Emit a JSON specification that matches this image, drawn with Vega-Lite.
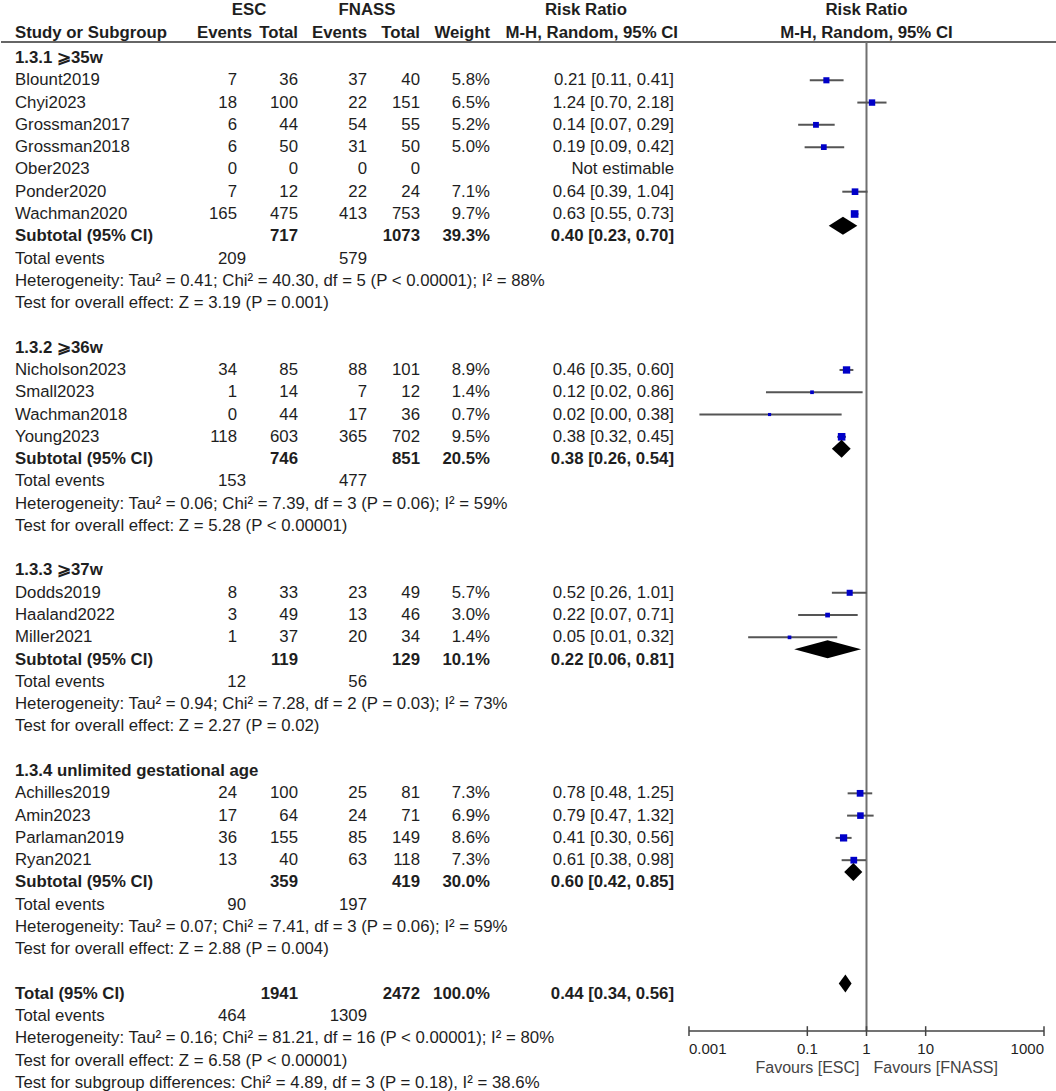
{
  "$schema": "https://vega.github.io/schema/vega-lite/v6.json",
  "background": "white",
  "padding": 0,
  "spacing": 0,
  "bounds": "flush",
  "config": {
    "view": {"stroke": null},
    "axis": {"disable": true},
    "text": {"font": "Liberation Sans", "fontSize": 16.8, "fill": "#1e1e1e", "baseline": "middle"}
  },
  "datasets": {
    "tbl": [
      {"row": -1, "kind": "head", "label": "Study or Subgroup", "ee": "Events", "et": "Total", "fe": "Events", "ft": "Total", "w": "Weight", "ci": "M-H, Random, 95% CI"},
      {"row": 0, "kind": "group", "label": "1.3.1 ⩾35w"},
      {"row": 1, "kind": "study", "label": "Blount2019", "ee": "7", "et": "36", "fe": "37", "ft": "40", "w": "5.8%", "ci": "0.21 [0.11, 0.41]"},
      {"row": 2, "kind": "study", "label": "Chyi2023", "ee": "18", "et": "100", "fe": "22", "ft": "151", "w": "6.5%", "ci": "1.24 [0.70, 2.18]"},
      {"row": 3, "kind": "study", "label": "Grossman2017", "ee": "6", "et": "44", "fe": "54", "ft": "55", "w": "5.2%", "ci": "0.14 [0.07, 0.29]"},
      {"row": 4, "kind": "study", "label": "Grossman2018", "ee": "6", "et": "50", "fe": "31", "ft": "50", "w": "5.0%", "ci": "0.19 [0.09, 0.42]"},
      {"row": 5, "kind": "study", "label": "Ober2023", "ee": "0", "et": "0", "fe": "0", "ft": "0", "w": "", "ci": "Not estimable"},
      {"row": 6, "kind": "study", "label": "Ponder2020", "ee": "7", "et": "12", "fe": "22", "ft": "24", "w": "7.1%", "ci": "0.64 [0.39, 1.04]"},
      {"row": 7, "kind": "study", "label": "Wachman2020", "ee": "165", "et": "475", "fe": "413", "ft": "753", "w": "9.7%", "ci": "0.63 [0.55, 0.73]"},
      {"row": 8, "kind": "sub", "label": "Subtotal (95% CI)", "ee": "", "et": "717", "fe": "", "ft": "1073", "w": "39.3%", "ci": "0.40 [0.23, 0.70]"},
      {"row": 9, "kind": "te", "label": "Total events", "ee": "209", "et": "", "fe": "579", "ft": "", "w": "", "ci": ""},
      {"row": 10, "kind": "note", "label": "Heterogeneity: Tau² = 0.41; Chi² = 40.30, df = 5 (P < 0.00001); I² = 88%"},
      {"row": 11, "kind": "note", "label": "Test for overall effect: Z = 3.19 (P = 0.001)"},
      {"row": 13, "kind": "group", "label": "1.3.2 ⩾36w"},
      {"row": 14, "kind": "study", "label": "Nicholson2023", "ee": "34", "et": "85", "fe": "88", "ft": "101", "w": "8.9%", "ci": "0.46 [0.35, 0.60]"},
      {"row": 15, "kind": "study", "label": "Small2023", "ee": "1", "et": "14", "fe": "7", "ft": "12", "w": "1.4%", "ci": "0.12 [0.02, 0.86]"},
      {"row": 16, "kind": "study", "label": "Wachman2018", "ee": "0", "et": "44", "fe": "17", "ft": "36", "w": "0.7%", "ci": "0.02 [0.00, 0.38]"},
      {"row": 17, "kind": "study", "label": "Young2023", "ee": "118", "et": "603", "fe": "365", "ft": "702", "w": "9.5%", "ci": "0.38 [0.32, 0.45]"},
      {"row": 18, "kind": "sub", "label": "Subtotal (95% CI)", "ee": "", "et": "746", "fe": "", "ft": "851", "w": "20.5%", "ci": "0.38 [0.26, 0.54]"},
      {"row": 19, "kind": "te", "label": "Total events", "ee": "153", "et": "", "fe": "477", "ft": "", "w": "", "ci": ""},
      {"row": 20, "kind": "note", "label": "Heterogeneity: Tau² = 0.06; Chi² = 7.39, df = 3 (P = 0.06); I² = 59%"},
      {"row": 21, "kind": "note", "label": "Test for overall effect: Z = 5.28 (P < 0.00001)"},
      {"row": 23, "kind": "group", "label": "1.3.3 ⩾37w"},
      {"row": 24, "kind": "study", "label": "Dodds2019", "ee": "8", "et": "33", "fe": "23", "ft": "49", "w": "5.7%", "ci": "0.52 [0.26, 1.01]"},
      {"row": 25, "kind": "study", "label": "Haaland2022", "ee": "3", "et": "49", "fe": "13", "ft": "46", "w": "3.0%", "ci": "0.22 [0.07, 0.71]"},
      {"row": 26, "kind": "study", "label": "Miller2021", "ee": "1", "et": "37", "fe": "20", "ft": "34", "w": "1.4%", "ci": "0.05 [0.01, 0.32]"},
      {"row": 27, "kind": "sub", "label": "Subtotal (95% CI)", "ee": "", "et": "119", "fe": "", "ft": "129", "w": "10.1%", "ci": "0.22 [0.06, 0.81]"},
      {"row": 28, "kind": "te", "label": "Total events", "ee": "12", "et": "", "fe": "56", "ft": "", "w": "", "ci": ""},
      {"row": 29, "kind": "note", "label": "Heterogeneity: Tau² = 0.94; Chi² = 7.28, df = 2 (P = 0.03); I² = 73%"},
      {"row": 30, "kind": "note", "label": "Test for overall effect: Z = 2.27 (P = 0.02)"},
      {"row": 32, "kind": "group", "label": "1.3.4 unlimited gestational age"},
      {"row": 33, "kind": "study", "label": "Achilles2019", "ee": "24", "et": "100", "fe": "25", "ft": "81", "w": "7.3%", "ci": "0.78 [0.48, 1.25]"},
      {"row": 34, "kind": "study", "label": "Amin2023", "ee": "17", "et": "64", "fe": "24", "ft": "71", "w": "6.9%", "ci": "0.79 [0.47, 1.32]"},
      {"row": 35, "kind": "study", "label": "Parlaman2019", "ee": "36", "et": "155", "fe": "85", "ft": "149", "w": "8.6%", "ci": "0.41 [0.30, 0.56]"},
      {"row": 36, "kind": "study", "label": "Ryan2021", "ee": "13", "et": "40", "fe": "63", "ft": "118", "w": "7.3%", "ci": "0.61 [0.38, 0.98]"},
      {"row": 37, "kind": "sub", "label": "Subtotal (95% CI)", "ee": "", "et": "359", "fe": "", "ft": "419", "w": "30.0%", "ci": "0.60 [0.42, 0.85]"},
      {"row": 38, "kind": "te", "label": "Total events", "ee": "90", "et": "", "fe": "197", "ft": "", "w": "", "ci": ""},
      {"row": 39, "kind": "note", "label": "Heterogeneity: Tau² = 0.07; Chi² = 7.41, df = 3 (P = 0.06); I² = 59%"},
      {"row": 40, "kind": "note", "label": "Test for overall effect: Z = 2.88 (P = 0.004)"},
      {"row": 42, "kind": "sub", "label": "Total (95% CI)", "ee": "", "et": "1941", "fe": "", "ft": "2472", "w": "100.0%", "ci": "0.44 [0.34, 0.56]"},
      {"row": 43, "kind": "te", "label": "Total events", "ee": "464", "et": "", "fe": "1309", "ft": "", "w": "", "ci": ""},
      {"row": 44, "kind": "note", "label": "Heterogeneity: Tau² = 0.16; Chi² = 81.21, df = 16 (P < 0.00001); I² = 80%"},
      {"row": 45, "kind": "note", "label": "Test for overall effect: Z = 6.58 (P < 0.00001)"},
      {"row": 46, "kind": "note", "label": "Test for subgroup differences: Chi² = 4.89, df = 3 (P = 0.18), I² = 38.6%"}
    ],
    "studies": [
      {"row": 1, "rr": 0.21, "lo": 0.11, "hi": 0.41, "w": 5.8},
      {"row": 2, "rr": 1.24, "lo": 0.70, "hi": 2.18, "w": 6.5},
      {"row": 3, "rr": 0.14, "lo": 0.07, "hi": 0.29, "w": 5.2},
      {"row": 4, "rr": 0.19, "lo": 0.09, "hi": 0.42, "w": 5.0},
      {"row": 6, "rr": 0.64, "lo": 0.39, "hi": 1.04, "w": 7.1},
      {"row": 7, "rr": 0.63, "lo": 0.55, "hi": 0.73, "w": 9.7},
      {"row": 14, "rr": 0.46, "lo": 0.35, "hi": 0.60, "w": 8.9},
      {"row": 15, "rr": 0.12, "lo": 0.02, "hi": 0.86, "w": 1.4},
      {"row": 16, "rr": 0.023, "lo": 0.0015, "hi": 0.38, "w": 0.7},
      {"row": 17, "rr": 0.38, "lo": 0.32, "hi": 0.45, "w": 9.5},
      {"row": 24, "rr": 0.52, "lo": 0.26, "hi": 1.01, "w": 5.7},
      {"row": 25, "rr": 0.22, "lo": 0.07, "hi": 0.71, "w": 3.0},
      {"row": 26, "rr": 0.05, "lo": 0.01, "hi": 0.32, "w": 1.4},
      {"row": 33, "rr": 0.78, "lo": 0.48, "hi": 1.25, "w": 7.3},
      {"row": 34, "rr": 0.79, "lo": 0.47, "hi": 1.32, "w": 6.9},
      {"row": 35, "rr": 0.41, "lo": 0.30, "hi": 0.56, "w": 8.6},
      {"row": 36, "rr": 0.61, "lo": 0.38, "hi": 0.98, "w": 7.3}
    ],
    "diamonds": [
      {"row": 8, "k": 0, "a": 0.40, "b": 0.40},
      {"row": 8, "k": 1, "a": 0.23, "b": 0.70},
      {"row": 8, "k": 2, "a": 0.40, "b": 0.40},
      {"row": 18, "k": 0, "a": 0.38, "b": 0.38},
      {"row": 18, "k": 1, "a": 0.26, "b": 0.54},
      {"row": 18, "k": 2, "a": 0.38, "b": 0.38},
      {"row": 27, "k": 0, "a": 0.22, "b": 0.22},
      {"row": 27, "k": 1, "a": 0.06, "b": 0.81},
      {"row": 27, "k": 2, "a": 0.22, "b": 0.22},
      {"row": 37, "k": 0, "a": 0.60, "b": 0.60},
      {"row": 37, "k": 1, "a": 0.42, "b": 0.85},
      {"row": 37, "k": 2, "a": 0.60, "b": 0.60},
      {"row": 42, "k": 0, "a": 0.44, "b": 0.44},
      {"row": 42, "k": 1, "a": 0.34, "b": 0.56},
      {"row": 42, "k": 2, "a": 0.44, "b": 0.44}
    ],
    "plothead": [
      {"row": -2, "x": 1, "label": "Risk Ratio"},
      {"row": -1, "x": 1, "label": "M-H, Random, 95% CI"}
    ],
    "ticks": [
      {"v": 0.001, "label": "0.001", "pos": "first"},
      {"v": 0.1, "label": "0.1", "pos": "mid"},
      {"v": 1, "label": "1", "pos": "mid"},
      {"v": 10, "label": "10", "pos": "mid"},
      {"v": 1000, "label": "1000", "pos": "last"}
    ]
  },
  "hconcat": [
    {
      "width": 236, "height": 1091,
      "data": {"name": "tbl"},
      "encoding": {"y": {"field": "row", "type": "quantitative", "scale": {"domain": [-2.603, 46.36], "reverse": true, "nice": false, "zero": false}}},
      "layer": [
        {"mark": {"type": "rule", "stroke": "#333333", "strokeWidth": 1.5}, "transform": [{"filter": "datum.row === -1"}],
         "encoding": {"y": {"datum": -0.72}, "x": {"value": 0}, "x2": {"value": "width"}}},
        {"mark": {"type": "text", "align": "left", "dx": 14}, "transform": [{"filter": "datum.kind === 'study' || datum.kind === 'te' || datum.kind === 'note'"}],
         "encoding": {"x": {"value": 0}, "text": {"field": "label"}}},
        {"mark": {"type": "text", "align": "left", "fontWeight": "bold", "dx": 14}, "transform": [{"filter": "datum.kind === 'group' || datum.kind === 'sub'"}],
         "encoding": {"x": {"value": 0}, "text": {"field": "label"}}},
        {"mark": {"type": "text", "align": "left", "fontWeight": "bold", "dx": 14, "dy": -3}, "transform": [{"filter": "datum.kind === 'head'"}],
         "encoding": {"x": {"value": 0}, "text": {"field": "label"}}},
        {"mark": {"type": "text", "align": "right"}, "transform": [{"filter": "datum.kind === 'study'"}],
         "encoding": {"x": {"value": "width"}, "text": {"field": "ee"}}},
        {"mark": {"type": "text", "align": "right", "dx": 9}, "transform": [{"filter": "datum.kind === 'te'"}],
         "encoding": {"x": {"value": "width"}, "text": {"field": "ee"}}},
        {"mark": {"type": "text", "align": "right", "fontWeight": "bold", "dx": 15, "dy": -3}, "transform": [{"filter": "datum.kind === 'head'"}],
         "encoding": {"x": {"value": "width"}, "text": {"field": "ee"}}}
      ]
    },
    {
      "width": 61, "height": 1091,
      "data": {"name": "tbl"},
      "encoding": {"y": {"field": "row", "type": "quantitative", "scale": {"domain": [-2.603, 46.36], "reverse": true, "nice": false, "zero": false}}},
      "layer": [
        {"mark": {"type": "rule", "stroke": "#333333", "strokeWidth": 1.5}, "transform": [{"filter": "datum.row === -1"}],
         "encoding": {"y": {"datum": -0.72}, "x": {"value": 0}, "x2": {"value": "width"}}},
        {"mark": {"type": "text", "align": "right"}, "transform": [{"filter": "datum.kind === 'study'"}],
         "encoding": {"x": {"value": "width"}, "text": {"field": "et"}}},
        {"mark": {"type": "text", "align": "right", "fontWeight": "bold"}, "transform": [{"filter": "datum.kind === 'sub'"}],
         "encoding": {"x": {"value": "width"}, "text": {"field": "et"}}},
        {"mark": {"type": "text", "align": "right", "fontWeight": "bold", "dy": -3}, "transform": [{"filter": "datum.kind === 'head'"}],
         "encoding": {"x": {"value": "width"}, "text": {"field": "et"}}},
        {"data": {"values": [{"row": -2, "label": "ESC"}]},
         "mark": {"type": "text", "align": "center", "fontWeight": "bold", "dx": 12, "dy": -3},
         "encoding": {"x": {"value": 0}, "text": {"field": "label"}}}
      ]
    },
    {
      "width": 69, "height": 1091,
      "data": {"name": "tbl"},
      "encoding": {"y": {"field": "row", "type": "quantitative", "scale": {"domain": [-2.603, 46.36], "reverse": true, "nice": false, "zero": false}}},
      "layer": [
        {"mark": {"type": "rule", "stroke": "#333333", "strokeWidth": 1.5}, "transform": [{"filter": "datum.row === -1"}],
         "encoding": {"y": {"datum": -0.72}, "x": {"value": 0}, "x2": {"value": "width"}}},
        {"mark": {"type": "text", "align": "right"}, "transform": [{"filter": "datum.kind === 'study' || datum.kind === 'te'"}],
         "encoding": {"x": {"value": "width"}, "text": {"field": "fe"}}},
        {"mark": {"type": "text", "align": "right", "fontWeight": "bold", "dy": -3}, "transform": [{"filter": "datum.kind === 'head'"}],
         "encoding": {"x": {"value": "width"}, "text": {"field": "fe"}}},
        {"data": {"values": [{"row": -2, "label": "FNASS"}]},
         "mark": {"type": "text", "align": "center", "fontWeight": "bold", "dy": -3},
         "encoding": {"x": {"value": "width"}, "text": {"field": "label"}}}
      ]
    },
    {
      "width": 53, "height": 1091,
      "data": {"name": "tbl"},
      "encoding": {"y": {"field": "row", "type": "quantitative", "scale": {"domain": [-2.603, 46.36], "reverse": true, "nice": false, "zero": false}}},
      "layer": [
        {"mark": {"type": "rule", "stroke": "#333333", "strokeWidth": 1.5}, "transform": [{"filter": "datum.row === -1"}],
         "encoding": {"y": {"datum": -0.72}, "x": {"value": 0}, "x2": {"value": "width"}}},
        {"mark": {"type": "text", "align": "right"}, "transform": [{"filter": "datum.kind === 'study'"}],
         "encoding": {"x": {"value": "width"}, "text": {"field": "ft"}}},
        {"mark": {"type": "text", "align": "right", "fontWeight": "bold"}, "transform": [{"filter": "datum.kind === 'sub'"}],
         "encoding": {"x": {"value": "width"}, "text": {"field": "ft"}}},
        {"mark": {"type": "text", "align": "right", "fontWeight": "bold", "dy": -3}, "transform": [{"filter": "datum.kind === 'head'"}],
         "encoding": {"x": {"value": "width"}, "text": {"field": "ft"}}}
      ]
    },
    {
      "width": 70, "height": 1091,
      "data": {"name": "tbl"},
      "encoding": {"y": {"field": "row", "type": "quantitative", "scale": {"domain": [-2.603, 46.36], "reverse": true, "nice": false, "zero": false}}},
      "layer": [
        {"mark": {"type": "rule", "stroke": "#333333", "strokeWidth": 1.5}, "transform": [{"filter": "datum.row === -1"}],
         "encoding": {"y": {"datum": -0.72}, "x": {"value": 0}, "x2": {"value": "width"}}},
        {"mark": {"type": "text", "align": "right"}, "transform": [{"filter": "datum.kind === 'study'"}],
         "encoding": {"x": {"value": "width"}, "text": {"field": "w"}}},
        {"mark": {"type": "text", "align": "right", "fontWeight": "bold"}, "transform": [{"filter": "datum.kind === 'sub'"}],
         "encoding": {"x": {"value": "width"}, "text": {"field": "w"}}},
        {"mark": {"type": "text", "align": "right", "fontWeight": "bold", "dy": -3}, "transform": [{"filter": "datum.kind === 'head'"}],
         "encoding": {"x": {"value": "width"}, "text": {"field": "w"}}}
      ]
    },
    {
      "width": 184, "height": 1091,
      "data": {"name": "tbl"},
      "encoding": {"y": {"field": "row", "type": "quantitative", "scale": {"domain": [-2.603, 46.36], "reverse": true, "nice": false, "zero": false}}},
      "layer": [
        {"mark": {"type": "rule", "stroke": "#333333", "strokeWidth": 1.5}, "transform": [{"filter": "datum.row === -1"}],
         "encoding": {"y": {"datum": -0.72}, "x": {"value": 0}, "x2": {"value": "width"}}},
        {"mark": {"type": "text", "align": "right"}, "transform": [{"filter": "datum.kind === 'study'"}],
         "encoding": {"x": {"value": "width"}, "text": {"field": "ci"}}},
        {"mark": {"type": "text", "align": "right", "fontWeight": "bold"}, "transform": [{"filter": "datum.kind === 'sub'"}],
         "encoding": {"x": {"value": "width"}, "text": {"field": "ci"}}},
        {"mark": {"type": "text", "align": "right", "fontWeight": "bold", "dx": 4, "dy": -3}, "transform": [{"filter": "datum.kind === 'head'"}],
         "encoding": {"x": {"value": "width"}, "text": {"field": "ci"}}},
        {"data": {"values": [{"row": -2, "label": "Risk Ratio"}]},
         "mark": {"type": "text", "align": "center", "fontWeight": "bold", "dx": -88, "dy": -3},
         "encoding": {"x": {"value": "width"}, "text": {"field": "label"}}}
      ]
    },
    {
      "width": 383, "height": 1031,
      "resolve": {"scale": {"y": "independent"}},
      "layer": [
        {
          "layer": [
            {
              "data": {"name": "plothead"},
              "mark": {"type": "text", "fontWeight": "bold", "dy": -3},
              "encoding": {"x": {"field": "x", "type": "quantitative", "scale": {"type": "log", "domain": [0.000558, 1658.6], "nice": false}}, "y": {"field": "row", "type": "quantitative", "scale": {"domain": [-2.603, 43.666], "reverse": true, "nice": false, "zero": false}}, "text": {"field": "label"}}
            },
            {
              "data": {"values": [{"row": -1}]},
              "mark": {"type": "rule", "stroke": "#333333", "strokeWidth": 1.5},
              "encoding": {"y": {"datum": -0.72}, "x": {"value": 0}, "x2": {"value": "width"}}
            },
            {
              "data": {"values": [{"v": 1}]},
              "mark": {"type": "rule", "stroke": "#707070", "strokeWidth": 2},
              "encoding": {"x": {"field": "v", "type": "quantitative"}, "y": {"datum": -0.72}, "y2": {"datum": 43.666}}
            },
            {
              "data": {"name": "studies"},
              "mark": {"type": "rule", "stroke": "#555555", "strokeWidth": 2},
              "encoding": {"x": {"field": "lo", "type": "quantitative"}, "x2": {"field": "hi"}, "y": {"field": "row", "type": "quantitative"}}
            },
            {
              "data": {"name": "studies"},
              "mark": {"type": "square", "filled": true, "color": "#0000C8", "opacity": 1},
              "encoding": {"x": {"field": "rr", "type": "quantitative"}, "y": {"field": "row", "type": "quantitative"}, "size": {"field": "w", "type": "quantitative", "scale": {"domain": [0, 10], "range": [6, 60]}, "legend": null}}
            },
            {
              "data": {"name": "ticks"},
              "mark": {"type": "rule", "stroke": "#444444", "strokeWidth": 1.5},
              "encoding": {"x": {"field": "v", "type": "quantitative"}, "y": {"datum": 43.45}, "y2": {"datum": 43.89}}
            },
            {
              "data": {"values": [{"a": 0.001, "b": 1000}]},
              "mark": {"type": "rule", "stroke": "#444444", "strokeWidth": 1.5},
              "encoding": {"x": {"field": "a", "type": "quantitative"}, "x2": {"field": "b"}, "y": {"datum": 43.666}}
            },
            {
              "data": {"name": "ticks"},
              "transform": [{"filter": "datum.pos === 'first'"}],
              "mark": {"type": "text", "align": "left", "fontSize": 15},
              "encoding": {"x": {"field": "v", "type": "quantitative"}, "y": {"datum": 44.48}, "text": {"field": "label"}}
            },
            {
              "data": {"name": "ticks"},
              "transform": [{"filter": "datum.pos === 'mid'"}],
              "mark": {"type": "text", "align": "center", "fontSize": 15},
              "encoding": {"x": {"field": "v", "type": "quantitative"}, "y": {"datum": 44.48}, "text": {"field": "label"}}
            },
            {
              "data": {"name": "ticks"},
              "transform": [{"filter": "datum.pos === 'last'"}],
              "mark": {"type": "text", "align": "right", "fontSize": 15},
              "encoding": {"x": {"field": "v", "type": "quantitative"}, "y": {"datum": 44.48}, "text": {"field": "label"}}
            },
            {
              "data": {"values": [{"v": 1, "label": "Favours [ESC]"}]},
              "mark": {"type": "text", "align": "right", "dx": -7, "fontSize": 16, "fill": "#444444"},
              "encoding": {"x": {"field": "v", "type": "quantitative"}, "y": {"datum": 45.33}, "text": {"field": "label"}}
            },
            {
              "data": {"values": [{"v": 1, "label": "Favours [FNASS]"}]},
              "mark": {"type": "text", "align": "left", "dx": 7, "fontSize": 16, "fill": "#444444"},
              "encoding": {"x": {"field": "v", "type": "quantitative"}, "y": {"datum": 45.33}, "text": {"field": "label"}}
            }
          ]
        },
        {
          "data": {"name": "diamonds"},
          "mark": {"type": "area", "orient": "horizontal", "color": "black", "opacity": 1},
          "encoding": {
            "x": {"field": "a", "type": "quantitative"},
            "x2": {"field": "b"},
            "y": {"field": "row", "type": "ordinal", "scale": {"type": "band", "domain": [-2, -1, 0, 1, 2, 3, 4, 5, 6, 7, 8, 9, 10, 11, 12, 13, 14, 15, 16, 17, 18, 19, 20, 21, 22, 23, 24, 25, 26, 27, 28, 29, 30, 31, 32, 33, 34, 35, 36, 37, 38, 39, 40, 41, 42, 43], "paddingInner": 0, "paddingOuter": 0.1345}},
            "yOffset": {"field": "k", "type": "quantitative", "scale": {"domain": [0, 2], "range": [-9, 9]}},
            "detail": {"field": "row"}
          }
        }
      ]
    }
  ]
}
